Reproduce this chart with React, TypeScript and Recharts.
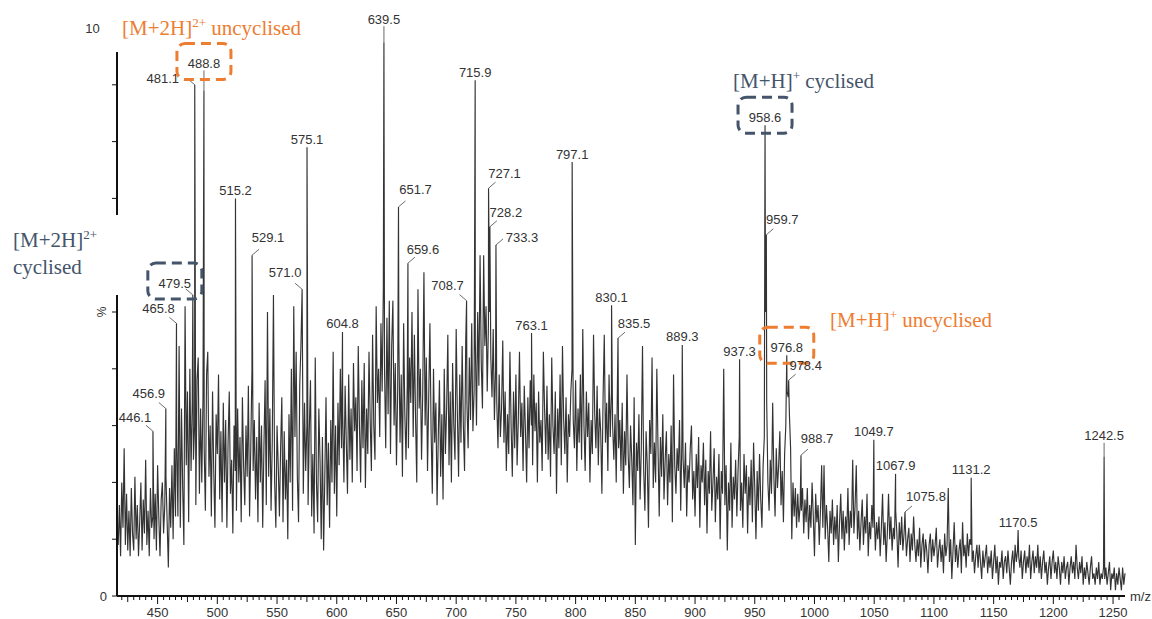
import React from 'react';
import { ComposedChart, Line, Scatter, XAxis, YAxis } from 'recharts';

// Profile intensities (% relative abundance), one reading per m/z unit.
const PROFILE_416 = [
  11, 9, 16, 7, 20, 12, 26, 9, 18, 8,
  15, 7, 19, 11, 8, 21, 10, 16, 7, 13,
  20, 8, 17, 11, 24, 9, 15, 7, 19, 12,
  14, 10, 18, 8, 23, 14, 7, 17, 20, 11,
  16, 21, 13, 5, 19, 12, 23, 10, 26, 14,
  28, 14, 44, 12, 33, 19, 9, 51, 23, 36,
  13, 40, 22, 34, 24, 30, 16, 38, 42, 18,
  33, 20, 35, 26, 15, 39, 43, 21, 30, 14,
  36, 22, 12, 32, 25, 39, 17, 29, 13, 34,
  20, 31, 12, 27, 36, 18, 24, 11, 30, 22,
];
const PROFILE_516 = [
  15, 33, 20, 28, 13, 35, 23, 16, 30, 21,
  37, 14, 26, 40, 22, 31, 17, 28, 13, 34,
  20, 30, 12, 26, 38, 16, 50, 21, 33, 15,
  27, 53, 20, 12, 30, 23, 14, 26, 35, 13,
  29, 17, 24, 10, 32, 20, 40, 15, 51, 28,
  43, 21, 13, 37, 44, 26, 18, 34, 22, 30,
  16, 29, 38, 14, 25, 11, 42, 20, 13, 33,
  24, 10, 28, 8, 21, 35, 16, 27, 12, 31,
  20, 43, 18, 30, 14, 34, 23, 40, 26, 32,
  20, 37, 27, 18, 39, 24, 33, 20, 41, 29,
];
const PROFILE_616 = [
  35, 22, 44, 30, 20, 38, 26, 41, 19, 33,
  25, 43, 31, 22, 46, 30, 24, 51, 34, 40,
  28, 48, 36, 54, 40, 26, 49, 32, 52, 25,
  44, 52, 30, 41, 23, 36, 45, 27, 39, 21,
  48, 32, 24, 37, 26, 42, 34, 50, 28, 46,
  31, 20, 54, 33, 40, 24, 36, 57, 30, 42,
  22, 35, 48, 29, 18, 40, 27, 34, 16, 28,
  38, 21, 32, 17, 40, 25, 33, 46, 23, 36,
  20, 41, 30, 24, 47, 32, 21, 39, 27, 44,
  30, 22, 45, 34, 26, 42, 31, 48, 29, 36,
];
const PROFILE_716 = [
  45, 30, 50, 37, 60, 41, 33, 60, 44, 51,
  36, 48, 50, 42, 35, 47, 31, 40, 34, 26,
  39, 28, 33, 45, 27, 36, 22, 32, 25, 43,
  30, 21, 36, 26, 39, 23, 31, 43, 28, 34,
  22, 37, 29, 20, 35, 26, 38, 30, 23, 39,
  29, 34, 20, 36, 27, 31, 22, 43, 33, 25,
  37, 24, 32, 21, 42, 30, 25, 36, 18, 33,
  26, 39, 23, 44, 31, 25, 35, 20, 32, 28,
  36, 40, 31, 26, 38, 22, 33, 27, 39, 24,
  47, 30, 22, 36, 28, 34, 20, 31, 25, 46,
];
const PROFILE_816 = [
  32, 26, 37, 23, 33, 29, 18, 35, 46, 27,
  34, 22, 39, 28, 36, 30, 24, 32, 20, 37,
  26, 31, 22, 34, 18, 29, 23, 39, 25, 19,
  30, 24, 16, 35, 9, 27, 22, 32, 17, 26,
  44, 22, 15, 29, 23, 12, 31, 25, 42, 19,
  27, 20, 40, 26, 14, 28, 21, 32, 17, 24,
  29, 16, 25, 20, 30, 13, 39, 23, 18, 26,
  22, 31, 15, 28, 24, 19, 27, 14, 23, 20,
  26, 30, 17, 22, 14, 25, 19, 28, 12, 23,
  20, 27, 16, 24, 11, 22, 18, 29, 15, 20,
];
const PROFILE_916 = [
  26, 13, 21, 17, 25, 10, 22, 18, 40, 16,
  23, 8, 20, 15, 27, 12, 21, 17, 24, 14,
  22, 28, 15, 20, 12, 25, 18, 23, 11, 21,
  16, 24, 13, 27, 19, 10, 22, 15, 25, 17,
  12, 23, 28, 50, 34, 20, 15, 24, 18, 34,
  21, 14, 26, 19, 23, 29, 16, 22, 13, 25,
  30, 36, 35, 32, 26, 10, 20, 14, 19, 12,
  18, 13, 16, 15, 19, 11, 17, 13, 19, 10,
  16, 12, 20, 14, 7, 18, 13, 16, 9, 15,
  23, 12, 23, 10, 16, 12, 6, 15, 11, 17,
];
const PROFILE_1016 = [
  9, 14, 10, 16, 6, 13, 18, 10, 15, 8,
  14, 11, 19, 9, 15, 12, 24, 11, 16, 23,
  10, 15, 8, 13, 17, 9, 14, 11, 18, 7,
  13, 10, 16, 12, 15, 8, 13, 10, 14, 7,
  12, 18, 9, 13, 6, 11, 18, 10, 14, 8,
  12, 10, 15, 11, 5, 13, 9, 14, 8, 11,
  13, 7, 10, 12, 6, 11, 8, 14, 9, 6,
  10, 7, 12, 5, 9, 11, 6, 10, 8, 4,
  9, 11, 6, 10, 7, 9, 12, 5, 8, 10,
  6, 9, 4, 11, 7, 9, 19, 6, 10, 3,
];
const PROFILE_1116 = [
  8, 13, 6, 9, 5, 8, 10, 4, 13, 7,
  9, 5, 11, 7, 10, 9, 6, 8, 4, 7,
  9, 5, 9, 6, 3, 8, 5, 7, 9, 4,
  7, 5, 8, 3, 6, 9, 4, 7, 2, 6,
  5, 8, 3, 6, 7, 4, 8, 5, 2, 6,
  8, 4, 9, 6, 8, 7, 5, 8, 3, 6,
  8, 4, 7, 5, 9, 3, 6, 8, 4, 7,
  5, 9, 4, 7, 3, 6, 8, 4, 6, 2,
  5, 7, 3, 6, 8, 4, 6, 3, 7, 5,
  2, 6, 4, 7, 3, 5, 6, 2, 5, 7,
];
const PROFILE_1216 = [
  4, 6, 3, 9, 5, 3, 6, 4, 7, 2,
  5, 3, 6, 4, 2, 5, 7, 3, 4, 2,
  5, 3, 6, 2, 4, 3, 5, 3, 5, 2,
  4, 6, 1, 4, 3, 5, 1, 4, 2, 5,
  3, 1, 5, 2, 4,
];

// Labelled centroid peaks
const PEAK_MZ = [
  446.1, 456.9, 465.8, 479.5, 481.1, 488.8, 515.2, 529.1, 571.0, 575.1,
  604.8, 639.5, 651.7, 659.6, 708.7, 715.9, 727.1, 728.2, 733.3, 763.1,
  797.1, 830.1, 835.5, 889.3, 937.3, 958.6, 959.7, 976.8, 978.4, 988.7,
  1049.7, 1067.9, 1075.8, 1131.2, 1170.5, 1242.5,
];
const PEAK_INTENSITY = [
  29, 33, 48, 53, 90, 89, 70, 60, 54, 79,
  46.5, 97.5, 68.5, 58.6, 52, 90.8, 71.8, 65, 61.8, 46.3,
  76.4, 51.2, 45.4, 44.2, 41.7, 82.9, 63.6, 42.4, 38, 24.8,
  27.5, 21.5, 14.8, 20.8, 11.6, 24.5,
];

const X_LABEL_TICKS = [450, 500, 550, 600, 650, 700, 750, 800, 850, 900, 950, 1000, 1050, 1100, 1150, 1200, 1250];
const Y_TICKS = [0, 10, 20, 30, 40, 50, 60, 70, 80, 90, 100];

const ORANGE = '#ED7D31';
const SLATE = '#44546A';

// Peak labels that get a dashed highlight box
const HIGHLIGHT: Record<string, string> = {
  '488.8': ORANGE,
  '479.5': SLATE,
  '958.6': SLATE,
  '976.8': ORANGE,
};

// Label placement relative to the peak apex (text centre), in px
const LABEL_OFFSETS: Record<string, [number, number]> = {
  '446.1': [-18, -14], '456.9': [-17, -15], '465.8': [-18, -15], '479.5': [-18, -12],
  '481.1': [-32, -6], '488.8': [0, -27], '529.1': [16, -18], '571.0': [-17, -17],
  '639.5': [0, -23], '651.7': [17, -17], '659.6': [15, -14], '708.7': [-19, -15],
  '727.1': [16, -15], '728.2': [16, -14], '733.3': [26, -8], '835.5': [16, -15],
  '959.7': [16, -15], '978.4': [17, -15], '988.7': [16, -17], '1075.8': [21, -15],
  '1242.5': [0, -21],
};

const MZ_MIN = 416;
const MZ_MAX = 1260;

const PROFILE_SEGMENTS: [number, number[]][] = [
  [416, PROFILE_416], [516, PROFILE_516], [616, PROFILE_616], [716, PROFILE_716],
  [816, PROFILE_816], [916, PROFILE_916], [1016, PROFILE_1016], [1116, PROFILE_1116],
  [1216, PROFILE_1216],
];

const merged = new Map<number, number>();
PROFILE_SEGMENTS.forEach(([start, vals]) => vals.forEach((v, i) => merged.set(start + i, v)));
PEAK_MZ.forEach((mz, i) => merged.set(mz, PEAK_INTENSITY[i]));
const spectrum = Array.from(merged.entries())
  .sort((a, b) => a[0] - b[0])
  .map(([mz, intensity]) => ({ mz, intensity }));

const peaks = PEAK_MZ.map((mz, i) => ({ mz, intensity: PEAK_INTENSITY[i], label: mz.toFixed(1) }));

const minorTicks: number[] = [];
for (let v = 420; v <= 1255; v += 5) minorTicks.push(v);

const SANS = '"Liberation Sans", Arial, sans-serif';
const SERIF = '"Liberation Serif", "Times New Roman", serif';

const XTick = (props: any) => {
  const { x, y, payload } = props;
  const v = payload.value as number;
  const major = X_LABEL_TICKS.includes(v);
  const len = major ? 8 : v % 25 === 0 ? 6 : 4;
  return (
    <g>
      <line x1={x} x2={x} y1={y} y2={y + len} stroke="#111" strokeWidth={1} />
      {major && (
        <text x={x} y={y + 16} dy="0.35em" textAnchor="middle" fontSize={13} fontFamily={SANS} fill="#333">
          {v}
        </text>
      )}
    </g>
  );
};

const YTick = (props: any) => {
  const { x, y, payload } = props;
  const v = payload.value as number;
  return (
    <g>
      <line x1={x} x2={x - 5} y1={y} y2={y} stroke="#111" strokeWidth={1} />
      {(v === 0 || v === 100) && (
        <text x={x - 10} y={y} dy="0.35em" textAnchor="end" fontSize={13} fontFamily={SANS} fill="#333">
          {v}
        </text>
      )}
      {v === 50 && (
        <text
          x={x - 15}
          y={y}
          dy="0.35em"
          textAnchor="middle"
          fontSize={12}
          fontFamily={SANS}
          fill="#333"
          transform={`rotate(-90 ${x - 15} ${y})`}
        >
          %
        </text>
      )}
    </g>
  );
};

const PeakLabel = (props: any) => {
  const { cx, cy, payload } = props;
  if (cx == null || cy == null) return <g />;
  const [dx, dy] = LABEL_OFFSETS[payload.label] ?? [0, -8];
  const tx = cx + dx;
  const ty = cy + dy;
  let leader: React.ReactNode = null;
  if (dx !== 0) {
    leader = <line x1={cx} y1={cy} x2={cx + Math.sign(dx) * 7} y2={cy - 6} stroke="#444" strokeWidth={0.8} />;
  } else if (dy < -12) {
    leader = <line x1={cx} y1={cy} x2={cx} y2={ty + 7} stroke="#444" strokeWidth={0.8} />;
  }
  const boxColor = HIGHLIGHT[payload.label];
  return (
    <g>
      {leader}
      <text x={tx} y={ty} dy="0.35em" textAnchor="middle" fontSize={13} fontFamily={SANS} fill="#333">
        {payload.label}
      </text>
      {boxColor && (
        <rect
          x={tx - 27}
          y={ty - 20}
          width={54}
          height={36}
          rx={8}
          ry={8}
          fill="none"
          stroke={boxColor}
          strokeWidth={3}
          strokeDasharray="10 6"
        />
      )}
    </g>
  );
};

const Sup = ({ children }: { children: React.ReactNode }) => (
  <span style={{ fontSize: 13, position: 'relative', top: -8 }}>{children}</span>
);

const annotationBase: React.CSSProperties = {
  position: 'absolute',
  fontFamily: SERIF,
  fontSize: 21,
  lineHeight: '21px',
  whiteSpace: 'nowrap',
};

export default function App() {
  return (
    <div style={{ position: 'absolute', left: 0, top: 0, width: 1152, height: 619, background: '#fff', overflow: 'hidden' }}>
      <ComposedChart
        width={1152}
        height={619}
        data={spectrum}
        margin={{ top: 28, right: 27, bottom: 0, left: 77 }}
      >
        <XAxis
          dataKey="mz"
          type="number"
          domain={[MZ_MIN, MZ_MAX]}
          ticks={minorTicks}
          interval={0}
          tick={<XTick />}
          tickLine={false}
          tickSize={0}
          tickMargin={0}
          height={23}
          axisLine={{ stroke: '#111', strokeWidth: 2 }}
        />
        <YAxis
          type="number"
          domain={[0, 100]}
          ticks={Y_TICKS}
          interval={0}
          tick={<YTick />}
          tickLine={false}
          tickSize={0}
          tickMargin={0}
          width={40}
          axisLine={{ stroke: '#111', strokeWidth: 2 }}
        />
        <Line
          dataKey="intensity"
          type="linear"
          stroke="#333"
          strokeWidth={1.15}
          dot={false}
          activeDot={false}
          isAnimationActive={false}
        />
        <Scatter data={peaks} dataKey="intensity" shape={<PeakLabel />} isAnimationActive={false} />
      </ComposedChart>

      {/* white text-box backgrounds that sit over the axis */}
      <div style={{ position: 'absolute', left: 100, top: 10, width: 21, height: 42, background: '#fff' }} />

      <div style={{ ...annotationBase, left: 122, top: 18, color: ORANGE }}>
        [M+2H]<Sup>2+</Sup> uncyclised
      </div>

      <div
        style={{
          ...annotationBase,
          left: 0,
          top: 215,
          width: 112,
          height: 67,
          paddingLeft: 13,
          paddingTop: 13,
          lineHeight: '25px',
          background: '#fff',
          color: SLATE,
        }}
      >
        [M+2H]<Sup>2+</Sup>
        <br />
        cyclised
      </div>

      <div style={{ ...annotationBase, left: 733, top: 71, color: SLATE }}>
        [M+H]<Sup>+</Sup> cyclised
      </div>

      <div style={{ ...annotationBase, left: 830, top: 310, color: ORANGE }}>
        [M+H]<Sup>+</Sup> uncyclised
      </div>

      <div style={{ position: 'absolute', left: 1130, top: 589, fontFamily: SANS, fontSize: 13, color: '#333' }}>m/z</div>
    </div>
  );
}
